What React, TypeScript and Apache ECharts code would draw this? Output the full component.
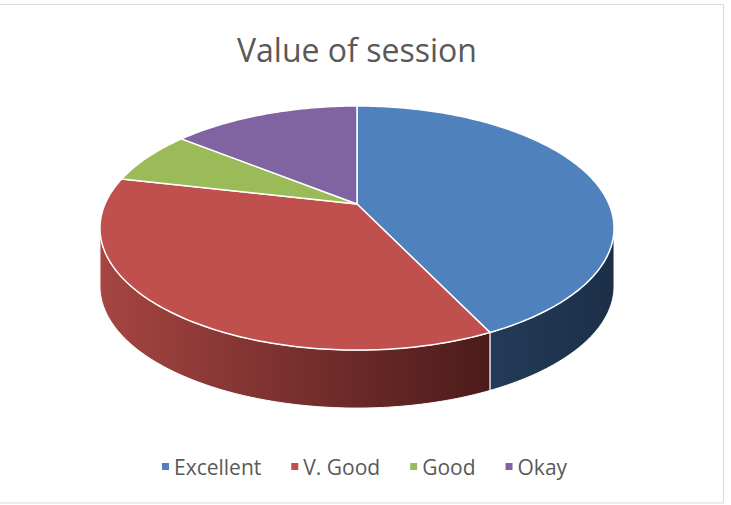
import React, { useEffect, useRef } from "react";
import * as echarts from "echarts";

const categories = ["Excellent", "V. Good", "Good", "Okay"];
const values = [6, 5, 1, 2];
const titleText = "Value of session";
const topColors = ["#4f81bd", "#c0504d", "#9bbb59", "#8064a2"];
const sideColors = [
  ["#233b58", "#1c2f47"],
  ["#a64542", "#4b1b1a"],
  ["#7d9646", "#5e7034"],
  ["#65507f", "#4c3c60"],
];

export default function App() {
  const ref = useRef<HTMLDivElement>(null);
  useEffect(() => {
    document.body.style.margin = "0";
    const chart = echarts.init(ref.current!, null, { renderer: "svg" });
    const total = values.reduce((a, b) => a + b, 0);
    const CX = 357, CY = 204, A = 252, B = 117.3, P = 0.197, H = 58;
    const proj = (deg: number, dy: number) => {
      const t = (deg * Math.PI) / 180;
      const s = Math.sin(t), c = Math.cos(t);
      const den = 1 + P * c;
      return [CX + (A * s) / den, CY - (B * c) / den + dy];
    };
    const visLo = (Math.acos(-P) * 180) / Math.PI;
    const visHi = 360 - visLo;
    const arc = (a0: number, a1: number, dy: number) => {
      const pts: number[][] = [];
      const n = Math.max(2, Math.ceil(Math.abs(a1 - a0)));
      for (let i = 0; i <= n; i++) pts.push(proj(a0 + ((a1 - a0) * i) / n, dy));
      return pts;
    };
    let acc = 0;
    const series = categories.map((name, i) => {
      const start = (acc / total) * 360;
      acc += values[i];
      const end = (acc / total) * 360;
      return {
        type: "custom",
        name,
        coordinateSystem: "none",
        data: [[start, end, values[i]]],
        renderItem: (params: any, api: any) => {
          const a0 = api.value(0), a1 = api.value(1);
          const children: any[] = [];
          const s0 = Math.max(a0, visLo), s1 = Math.min(a1, visHi);
          if (s1 > s0) {
            const topArc = arc(s0, s1, 0);
            const botArc = arc(s1, s0, H);
            children.push({
              type: "polygon",
              shape: { points: topArc.concat(botArc) },
              style: {
                fill: new echarts.graphic.LinearGradient(0, 0, 1, 0, [
                  { offset: 0, color: sideColors[i][0] },
                  { offset: 1, color: sideColors[i][1] },
                ]),
                stroke: "#ffffff",
                lineWidth: 1,
              },
            });
          }
          children.push({
            type: "polygon",
            shape: { points: [[CX, CY]].concat(arc(a0, a1, 0)) },
            style: { fill: topColors[i], stroke: "#ffffff", lineWidth: 1.5 },
          });
          return { type: "group", children };
        },
      };
    });
    chart.setOption({
      animation: false,
      color: topColors,
      title: {
        text: titleText,
        left: 232,
        top: 28,
        textStyle: { fontFamily: "Open Sans", fontSize: 32, fontWeight: "normal", color: "#595959" },
      },
      legend: {
        data: categories,
        left: 157,
        top: 451,
        icon: "rect",
        itemWidth: 7,
        itemHeight: 7,
        itemGap: 30,
        textStyle: { fontFamily: "Open Sans", fontSize: 21, color: "#595959" },
      },
      graphic: [
        {
          type: "rect",
          shape: { x: -2, y: 4.5, width: 725.5, height: 498.5 },
          style: { fill: "none", stroke: "#d9d9d9", lineWidth: 1 },
          silent: true,
        },
      ],
      series,
    });
    return () => chart.dispose();
  }, []);
  return <div ref={ref} style={{ width: 731, height: 505 }} />;
}
